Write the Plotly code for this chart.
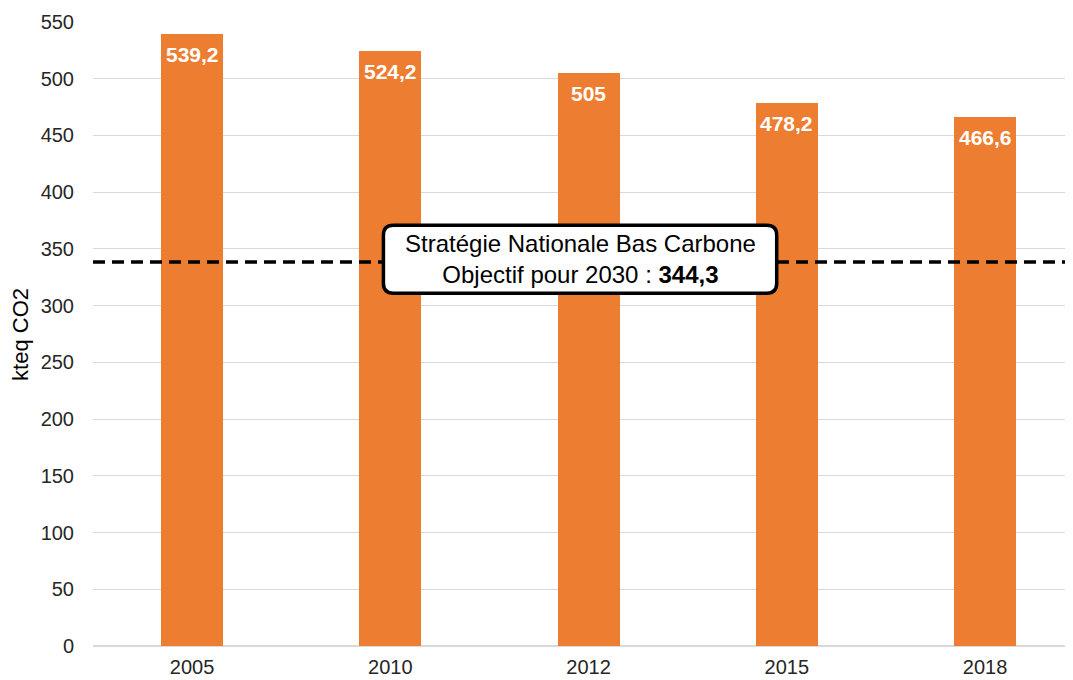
import plotly.graph_objects as go

# Data
years = ["2005", "2010", "2012", "2015", "2018"]
emissions = [539.2, 524.2, 505, 478.2, 466.6]
emission_labels = ["539,2", "524,2", "505", "478,2", "466,6"]

# Objective line (drawn where it sits on the picture)
objective_level = 338.5
objective_text = "Stratégie Nationale Bas Carbone<br>Objectif pour 2030 : <b>344,3</b>"

font_family = "Liberation Sans, Arial, sans-serif"
orange = "#ED7D31"

fig = go.Figure()

# Bars
fig.add_trace(go.Bar(
    x=years,
    y=emissions,
    marker=dict(color=orange, line=dict(width=0)),
    width=0.313,
    showlegend=False,
    hoverinfo="skip",
))

# Value labels inside the top of each bar (category index as x)
for i, (val, label) in enumerate(zip(emissions, emission_labels)):
    fig.add_annotation(
        x=i, y=val, xref="x", yref="y",
        text=f"<b>{label}</b>", showarrow=False,
        yanchor="top", yshift=-7,
        font=dict(family=font_family, size=21, color="white"),
    )

# Dashed objective line across the whole plot
fig.add_shape(
    type="line", xref="paper", yref="y",
    x0=0, x1=1, y0=objective_level, y1=objective_level,
    line=dict(color="black", width=3.5, dash="12px,7px"),
    layer="above",
)

# Rounded box for the objective label
bx0, bx1 = 0.965, 2.949
by0, by1 = 311.0, 370.9
rx, ry = 0.05, 8.8
box_path = (
    f"M {bx0 + rx},{by1} L {bx1 - rx},{by1} Q {bx1},{by1} {bx1},{by1 - ry} "
    f"L {bx1},{by0 + ry} Q {bx1},{by0} {bx1 - rx},{by0} "
    f"L {bx0 + rx},{by0} Q {bx0},{by0} {bx0},{by0 + ry} "
    f"L {bx0},{by1 - ry} Q {bx0},{by1} {bx0 + rx},{by1} Z"
)
fig.add_shape(
    type="path", xref="x", yref="y", path=box_path,
    fillcolor="white", line=dict(color="black", width=3.5),
    layer="above",
)

fig.add_annotation(
    x=1.957, y=340.9, xref="x", yref="y",
    text=objective_text, showarrow=False,
    font=dict(family=font_family, size=24, color="black"),
    align="center",
)

# Y axis title
fig.add_annotation(
    x=-0.074, y=0.5, xref="paper", yref="paper",
    text="kteq CO2", textangle=-90, showarrow=False,
    font=dict(family=font_family, size=22, color="black"),
    xanchor="center", yanchor="middle",
)

# page body adds an 8px offset, so the figure is sized to compensate
# (plot runs past the right edge of the window, like the cropped reference)
fig.update_layout(
    width=1073, height=672,
    margin=dict(l=85, r=0, t=14, b=34),
    plot_bgcolor="white", paper_bgcolor="white",
    font=dict(family=font_family, size=20, color="#262626"),
    bargap=0,
)

fig.update_xaxes(
    type="category",
    range=[-0.5, 4.484],
    automargin=False,
    showgrid=False,
    showline=False,
    ticks="",
    ticklabelstandoff=7,
    tickfont=dict(size=20, color="#262626"),
)

fig.update_yaxes(
    range=[0, 550],
    tickvals=list(range(0, 551, 50)),
    automargin=False,
    showgrid=True, gridcolor="#d9d9d9", gridwidth=1.3,
    zeroline=True, zerolinecolor="#d9d9d9", zerolinewidth=1.5,
    showline=False,
    ticks="",
    ticklabelstandoff=18,
    tickfont=dict(size=20, color="#262626"),
)

fig.write_html("out.html")
